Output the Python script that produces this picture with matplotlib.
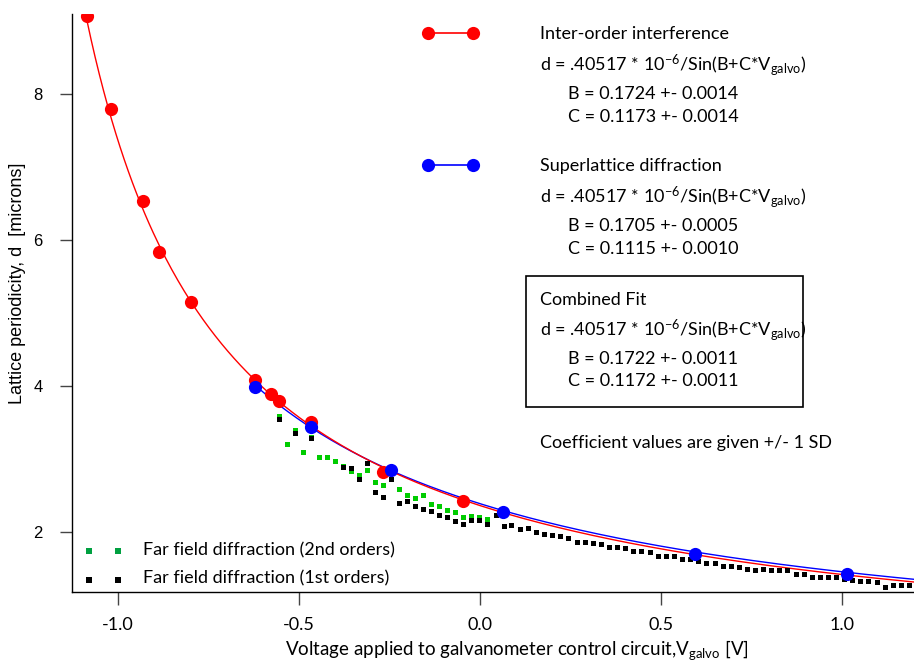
import numpy as np
import matplotlib
matplotlib.use("Agg")
import matplotlib.pyplot as plt
from matplotlib.lines import Line2D
from matplotlib.patches import Rectangle

plt.rcParams["mathtext.fontset"] = "custom"
plt.rcParams["mathtext.rm"] = "Lato"
plt.rcParams["mathtext.it"] = "Lato:italic"

# Inter-order interference measurements (V, microns)
red_v = [-1.086, -1.019, -0.931, -0.887, -0.798, -0.622, -0.577, -0.555, -0.467, -0.268, -0.047]
red_d = [9.06, 7.79, 6.53, 5.83, 5.15, 4.08, 3.89, 3.79, 3.51, 2.82, 2.42]

# Superlattice diffraction measurements
blue_v = [-0.622, -0.467, -0.246, 0.064, 0.594, 1.014]
blue_d = [3.98, 3.44, 2.85, 2.27, 1.70, 1.43]

# Far field diffraction, 2nd orders
green_v = [-0.555, -0.533, -0.510, -0.488, -0.466, -0.444, -0.422, -0.400, -0.378,
           -0.356, -0.333, -0.311, -0.289, -0.267, -0.223, -0.201, -0.179, -0.157,
           -0.134, -0.112, -0.090, -0.068, -0.046, -0.024, -0.002, 0.020]
green_d = [3.59, 3.20, 3.40, 3.10, 3.30, 3.02, 3.02, 2.97, 2.91,
           2.83, 2.78, 2.85, 2.69, 2.65, 2.59, 2.50, 2.47, 2.50,
           2.39, 2.35, 2.30, 2.27, 2.20, 2.22, 2.20, 2.18]

# Far field diffraction, 1st orders
black_v = [-0.555, -0.510, -0.466, -0.378, -0.356, -0.333, -0.311, -0.289, -0.267,
           -0.245, -0.223, -0.201, -0.179, -0.157, -0.134, -0.112, -0.090, -0.068,
           -0.046, -0.024, -0.002, 0.020, 0.043, 0.065, 0.087, 0.110, 0.133,
           0.155, 0.177, 0.200, 0.222, 0.244, 0.267, 0.289, 0.312, 0.334,
           0.356, 0.379, 0.401, 0.424, 0.446, 0.469, 0.491, 0.513, 0.536,
           0.558, 0.580, 0.603, 0.625, 0.648, 0.670, 0.693, 0.715, 0.737,
           0.760, 0.782, 0.804, 0.827, 0.849, 0.872, 0.894, 0.917, 0.939,
           0.961, 0.983, 1.006, 1.028, 1.051, 1.073, 1.096, 1.118, 1.140,
           1.163, 1.185]
black_d = [3.54, 3.35, 3.29, 2.89, 2.88, 2.72, 2.95, 2.55, 2.48,
           2.72, 2.40, 2.43, 2.36, 2.31, 2.29, 2.23, 2.21, 2.15,
           2.11, 2.17, 2.17, 2.11, 2.23, 2.08, 2.10, 2.04, 2.05,
           2.00, 1.97, 1.96, 1.94, 1.92, 1.87, 1.86, 1.85, 1.83,
           1.79, 1.79, 1.78, 1.74, 1.74, 1.72, 1.67, 1.67, 1.67,
           1.63, 1.63, 1.60, 1.57, 1.57, 1.53, 1.53, 1.52, 1.50,
           1.48, 1.49, 1.48, 1.48, 1.48, 1.42, 1.42, 1.38, 1.39,
           1.39, 1.38, 1.36, 1.35, 1.33, 1.33, 1.32, 1.25, 1.28,
           1.28, 1.27]

# Fit coefficients: d = 0.40517e-6 / sin(B + C*V)  (plotted in microns)
A_fit = 0.40517
red_B, red_C = 0.1724, 0.1173
blue_B, blue_C = 0.1705, 0.1115

x_ticks = [-1.0, -0.5, 0.0, 0.5, 1.0]
y_ticks = [2, 4, 6, 8]

W, H = 914, 668
fig = plt.figure(figsize=(W / 100, H / 100), dpi=100)
ax = fig.add_axes([72 / W, 1 - 592 / H, (W - 72) / W, (592 - 14) / H])

xmin, xmax = (72 - 480) / 362, (W - 480) / 362
ax.set_xlim(xmin, xmax)
ax.set_ylim(1.179, 9.089)

vr = np.linspace(min(red_v), xmax, 400)
ax.plot(vr, A_fit / np.sin(red_B + red_C * vr), color="#ff0000", lw=1.0, zorder=3)
vb = np.linspace(min(blue_v), xmax, 400)
ax.plot(vb, A_fit / np.sin(blue_B + blue_C * vb), color="#0000ff", lw=1.0, zorder=2)

ax.plot(green_v, green_d, ls="none", marker="s", ms=3.6, mew=0, color="#00cc00", zorder=4)
ax.plot(black_v, black_d, ls="none", marker="s", ms=3.6, mew=0, color="#000000", zorder=5)
ax.plot(red_v, red_d, ls="none", marker="o", ms=9.5, mew=0, color="#ff0000", zorder=6)
ax.plot(blue_v, blue_d, ls="none", marker="o", ms=9.5, mew=0, color="#0000ff", zorder=7)

for s in ("top", "right"):
    ax.spines[s].set_visible(False)
for s in ("left", "bottom"):
    ax.spines[s].set_linewidth(1.0)

font = "Lato"
ax.set_xticks(x_ticks)
ax.set_xticklabels([f"{t:.1f}" for t in x_ticks], family=font, fontsize=13)
ax.set_yticks(y_ticks)
ax.set_yticklabels([str(t) for t in y_ticks], family="Liberation Sans", fontsize=12)
ax.tick_params(axis="both", direction="out", length=9, width=1.0, color="#444444")
ax.tick_params(axis="x", pad=9)
ax.tick_params(axis="y", pad=12)

ax.set_xlabel(r"Voltage applied to galvanometer control circuit,V$_{\mathregular{galvo}}$ [V]",
              family=font, fontsize=13.5)
ax.xaxis.set_label_coords((517 - 72) / (W - 72), -(650 - 592) / (592 - 14))
ax.xaxis.label.set_va("center")
ax.set_ylabel("Lattice periodicity, d  [microns]", family="Liberation Sans", fontsize=13)
ax.yaxis.set_label_coords(-(72 - 18) / (W - 72), (592 - 283) / (592 - 14))
ax.yaxis.label.set_va("center")


def fp(x, y):
    return (x / W, 1 - y / H)


tf = fig.transFigure
fs = 13
formula = r"d = .40517 * 10$^{\mathregular{-6}}$/Sin(B+C*V$_{\mathregular{galvo}}$)"

# Inter-order block
fig.add_artist(Line2D([428 / W, 473 / W], [1 - 33 / H] * 2, transform=tf, color="#ff0000",
                      lw=1.2, marker="o", ms=9.5, mew=0))
fig.text(*fp(540, 34), "Inter-order interference", family=font, fontsize=fs, va="center")
fig.text(*fp(540, 65), formula, family=font, fontsize=fs, va="center")
fig.text(*fp(568, 94), "B = 0.1724 +- 0.0014", family=font, fontsize=fs, va="center")
fig.text(*fp(568, 117), "C = 0.1173 +- 0.0014", family=font, fontsize=fs, va="center")

# Superlattice block
fig.add_artist(Line2D([428 / W, 473 / W], [1 - 165 / H] * 2, transform=tf, color="#0000ff",
                      lw=1.2, marker="o", ms=9.5, mew=0))
fig.text(*fp(540, 166), "Superlattice diffraction", family=font, fontsize=fs, va="center")
fig.text(*fp(540, 197), formula, family=font, fontsize=fs, va="center")
fig.text(*fp(568, 226), "B = 0.1705 +- 0.0005", family=font, fontsize=fs, va="center")
fig.text(*fp(568, 249), "C = 0.1115 +- 0.0010", family=font, fontsize=fs, va="center")

# Combined fit box
x0, y0 = fp(526, 407)
x1, y1 = fp(803, 276)
fig.add_artist(Rectangle((x0, y0), x1 - x0, y1 - y0, transform=tf, fill=False,
                         edgecolor="black", lw=1.2))
fig.text(*fp(540, 300), "Combined Fit", family=font, fontsize=fs, va="center")
fig.text(*fp(540, 330), formula, family=font, fontsize=fs, va="center")
fig.text(*fp(568, 359), "B = 0.1722 +- 0.0011", family=font, fontsize=fs, va="center")
fig.text(*fp(568, 381), "C = 0.1172 +- 0.0011", family=font, fontsize=fs, va="center")

fig.text(*fp(540, 443), "Coefficient values are given +/- 1 SD", family=font, fontsize=fs, va="center")

# Far-field legend
fig.add_artist(Line2D([89 / W, 118 / W], [1 - 551 / H] * 2, transform=tf, ls="none",
                      marker="s", ms=5, mew=0, color="#00a040"))
fig.add_artist(Line2D([89 / W, 118 / W], [1 - 580 / H] * 2, transform=tf, ls="none",
                      marker="s", ms=5, mew=0, color="#000000"))
fig.text(*fp(143, 550), "Far field diffraction (2nd orders)", family=font, fontsize=fs, va="center")
fig.text(*fp(143, 578), "Far field diffraction (1st orders)", family=font, fontsize=fs, va="center")

fig.savefig("out.png", dpi=100)
